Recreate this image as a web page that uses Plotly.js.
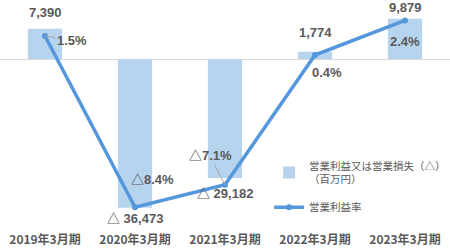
<!DOCTYPE html>
<html>
<head>
<meta charset="utf-8">
<script src="https://cdn.plot.ly/plotly-3.0.1.min.js"></script>
<style>html,body{margin:0;padding:0;background:#fff;}#chart{width:450px;height:250px;}</style>
</head>
<body>
<div id="chart"></div>
<script>
const categories = ["2019年3月期", "2020年3月期", "2021年3月期", "2022年3月期", "2023年3月期"];
const operatingIncome = [7390, -36473, -29182, 1774, 9879];
const operatingMargin = [1.5, -8.4, -7.1, 0.4, 2.4];
const barName = "営業利益又は営業損失（△）<br>（百万円）";
const lineName = "営業利益率";

const FONT = "Liberation Sans, Arial, Noto Sans CJK JP, sans-serif";
const TXT = "#595959";

function fmtBar(v) {
  const s = Math.abs(v).toLocaleString("en-US");
  return v < 0 ? "△ " + s : s;
}
function fmtPct(v) {
  const s = Math.abs(v).toFixed(1) + "%";
  return v < 0 ? "△" + s : s;
}

// offsets (pixels) of margin labels from their points
const pctOffsets = [[27, 5, true], [17, -28, false], [-15, -29, true], [12, 17, false], [0, 21, false]];
const barShifts = [7, -1, -6, 10, 2];

const annotations = [];
operatingIncome.forEach((v, i) => {
  annotations.push({
    x: categories[i], y: v, xref: "x", yref: "y",
    text: "<b>" + fmtBar(v) + "</b>", showarrow: false,
    yanchor: v >= 0 ? "bottom" : "top", yshift: barShifts[i],
    font: {family: FONT, size: 13, color: TXT}
  });
});
operatingMargin.forEach((v, i) => {
  const o = pctOffsets[i];
  annotations.push({
    x: categories[i], y: v, xref: "x", yref: "y2",
    text: "<b>" + fmtPct(v) + "</b>",
    showarrow: true, arrowhead: 0, arrowwidth: o[2] ? 1 : 0.01,
    arrowcolor: o[2] ? "#A6A6A6" : "rgba(0,0,0,0)", standoff: 0,
    ax: o[0], ay: o[1],
    font: {family: FONT, size: 13, color: TXT}
  });
});

const data = [
  {
    type: "bar", x: categories, y: operatingIncome, name: barName, legendgroup: "bar",
    marker: {color: "#B7D4EF"}, yaxis: "y", hoverinfo: "none"
  },
  {
    type: "scatter", mode: "lines+markers", x: categories, y: operatingMargin, name: lineName,
    legendgroup: "line",
    line: {color: "#5597DC", width: 3.5}, marker: {color: "#5597DC", size: 6},
    yaxis: "y2", hoverinfo: "none"
  }
];

const layout = {
  width: 450, height: 250,
  margin: {l: 0, r: 0, t: 5, b: 19, autoexpand: false},
  paper_bgcolor: "#fff", plot_bgcolor: "#fff",
  showlegend: true,
  legend: {
    x: 0.598, y: 0.348, xanchor: "left", yanchor: "top",
    font: {family: "Noto Sans CJK JP, sans-serif", size: 10.5, color: TXT},
    bgcolor: "rgba(0,0,0,0)", tracegroupgap: 10, itemwidth: 30
  },
  bargap: 0.62,
  xaxis: {
    type: "category", showgrid: false, showline: false, zeroline: false, ticks: "",
    automargin: false,
    tickfont: {family: "Noto Sans CJK JP, sans-serif", size: 12, color: TXT, weight: "bold"},
    fixedrange: true
  },
  yaxis: {
    range: [-42140, 13230], showgrid: false, showticklabels: false, ticks: "",
    zeroline: true, zerolinecolor: "#D9D9D9", zerolinewidth: 1, automargin: false
  },
  yaxis2: {
    range: [-9.77, 3.29], overlaying: "y", side: "right", showgrid: false,
    showticklabels: false, ticks: "", zeroline: false, automargin: false
  },
  annotations: annotations
};

Plotly.newPlot("chart", data, layout, {displayModeBar: false, staticPlot: true});
</script>
</body>
</html>
